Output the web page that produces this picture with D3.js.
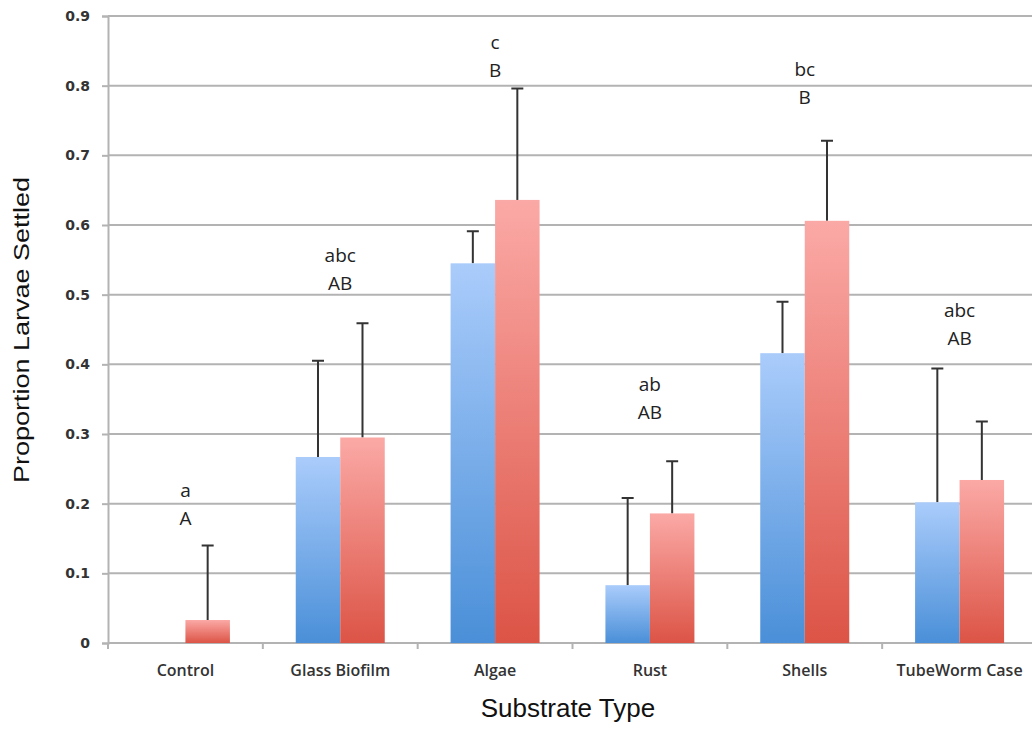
<!DOCTYPE html>
<html>
<head>
<meta charset="utf-8">
<script src="https://cdn.jsdelivr.net/npm/d3@7"></script>
<style>
  body { margin: 0; background: #fff; }
  svg { display: block; }
</style>
</head>
<body>
<div id="chart"></div>
<script>
// chart data
var categories = ["Control", "Glass Biofilm", "Algae", "Rust", "Shells", "TubeWorm Case"];
var series = ["blue", "red"];
var blueMeans = [0, 0.267, 0.545, 0.083, 0.416, 0.202];
var blueErrTop = [0, 0.405, 0.591, 0.208, 0.490, 0.394];
var redMeans = [0.033, 0.295, 0.636, 0.186, 0.606, 0.234];
var redErrTop = [0.140, 0.459, 0.796, 0.261, 0.721, 0.318];
var lowerLetters = ["a", "abc", "c", "ab", "bc", "abc"];
var upperLetters = ["A", "AB", "B", "AB", "B", "AB"];
// data value at which the upper letter sits
var letterLevel = [0.170, 0.506, 0.813, 0.322, 0.773, 0.428];
var yTicks = [0, 0.1, 0.2, 0.3, 0.4, 0.5, 0.6, 0.7, 0.8, 0.9];

var svgWidth = 1032;
var svgHeight = 729;
var margin = { top: 16, right: -5, bottom: 86, left: 108 };
var width = svgWidth - margin.left - margin.right;
var height = svgHeight - margin.top - margin.bottom;

var svg = d3.select("#chart")
  .append("svg")
  .attr("width", svgWidth)
  .attr("height", svgHeight);

var defs = svg.append("defs");
var blueGrad = defs.append("linearGradient").attr("id", "gradBlue")
  .attr("x1", 0).attr("y1", 0).attr("x2", 0).attr("y2", 1);
blueGrad.append("stop").attr("offset", "0%").attr("stop-color", "#aaccfb");
blueGrad.append("stop").attr("offset", "100%").attr("stop-color", "#4a8fd8");
var redGrad = defs.append("linearGradient").attr("id", "gradRed")
  .attr("x1", 0).attr("y1", 0).attr("x2", 0).attr("y2", 1);
redGrad.append("stop").attr("offset", "0%").attr("stop-color", "#fba9a6");
redGrad.append("stop").attr("offset", "100%").attr("stop-color", "#dc5446");

var chartGroup = svg.append("g")
  .attr("transform", `translate(${margin.left}, ${margin.top})`);

// scales
var x0 = d3.scaleBand()
  .domain(categories)
  .range([0, width])
  .paddingInner(0)
  .paddingOuter(0);

var groupWidth = 89;
var x1 = d3.scaleBand()
  .domain(series)
  .range([(x0.bandwidth() - groupWidth) / 2, (x0.bandwidth() + groupWidth) / 2]);

var yLinearScale = d3.scaleLinear()
  .domain([0, 0.9])
  .range([height, 0]);

// horizontal gridlines
chartGroup.append("g")
  .selectAll("line")
  .data(yTicks)
  .enter()
  .append("line")
  .attr("x1", 0)
  .attr("x2", width)
  .attr("y1", d => yLinearScale(d))
  .attr("y2", d => yLinearScale(d))
  .attr("stroke", "#b3b3b3")
  .attr("stroke-width", 2);

// y axis
var leftAxis = d3.axisLeft(yLinearScale)
  .tickValues(yTicks)
  .tickSize(6)
  .tickPadding(12)
  .tickFormat(d => d === 0 ? "0" : d3.format(".1f")(d));

var yAxis = chartGroup.append("g").call(leftAxis);
yAxis.select(".domain").attr("stroke", "#b3b3b3").attr("stroke-width", 2);
yAxis.selectAll(".tick line").attr("stroke", "#b3b3b3").attr("stroke-width", 2);
yAxis.selectAll("text")
  .attr("font-family", "DejaVu Sans, Verdana, sans-serif")
  .attr("font-weight", "bold")
  .attr("font-size", "14px")
  .attr("fill", "#333");

// x axis: ticks sit on category boundaries
var boundaries = categories.map(c => x0(c)).concat([width]);
var xAxis = chartGroup.append("g")
  .attr("transform", `translate(0, ${height})`);
xAxis.append("line")
  .attr("x1", 0).attr("x2", width)
  .attr("stroke", "#b3b3b3").attr("stroke-width", 2);
xAxis.selectAll(".xtick")
  .data(boundaries)
  .enter()
  .append("line")
  .attr("class", "xtick")
  .attr("x1", d => d).attr("x2", d => d)
  .attr("y1", 0).attr("y2", 6)
  .attr("stroke", "#b3b3b3").attr("stroke-width", 2);
xAxis.selectAll(".xlabel")
  .data(categories)
  .enter()
  .append("text")
  .attr("class", "xlabel")
  .attr("x", d => x0(d) + x0.bandwidth() / 2)
  .attr("y", 33)
  .attr("text-anchor", "middle")
  .attr("font-family", "Open Sans, Lato, sans-serif")
  .attr("font-size", "16px")
  .attr("font-weight", 600)
  .attr("fill", "#333")
  .text(d => d);

// build rows for bars
var rows = categories.map(function(c, i) {
  return {
    cat: c,
    vals: [
      { key: "blue", mean: blueMeans[i], top: blueErrTop[i] },
      { key: "red", mean: redMeans[i], top: redErrTop[i] }
    ]
  };
});

var groups = chartGroup.selectAll(".group")
  .data(rows)
  .enter()
  .append("g")
  .attr("class", "group")
  .attr("transform", d => `translate(${x0(d.cat)}, 0)`);

// error bars first, bars drawn over them
groups.selectAll(".err")
  .data(d => d.vals.filter(v => v.top > v.mean))
  .enter()
  .append("path")
  .attr("class", "err")
  .attr("d", function(v) {
    var cx = x1(v.key) + x1.bandwidth() / 2;
    var y0 = yLinearScale(v.mean);
    var y1 = yLinearScale(v.top);
    return `M${cx},${y0}V${y1}M${cx - 6},${y1}H${cx + 6}`;
  })
  .attr("stroke", "#333")
  .attr("stroke-width", 2)
  .attr("fill", "none");

groups.selectAll(".bar")
  .data(d => d.vals)
  .enter()
  .append("rect")
  .attr("class", "bar")
  .attr("x", v => x1(v.key))
  .attr("width", x1.bandwidth())
  .attr("y", v => yLinearScale(v.mean))
  .attr("height", v => height - yLinearScale(v.mean))
  .attr("fill", v => v.key === "blue" ? "url(#gradBlue)" : "url(#gradRed)");

// significance letters
var letters = chartGroup.selectAll(".letters")
  .data(categories)
  .enter()
  .append("g")
  .attr("class", "letters")
  .attr("font-family", "Open Sans, Lato, sans-serif")
  .attr("font-size", "19px")
  .attr("fill", "#222");

letters.append("text")
  .attr("x", (d, i) => x0(d) + x0.bandwidth() / 2)
  .attr("y", (d, i) => yLinearScale(letterLevel[i]) - 28)
  .attr("text-anchor", "middle")
  .text((d, i) => lowerLetters[i]);

letters.append("text")
  .attr("x", (d, i) => x0(d) + x0.bandwidth() / 2)
  .attr("y", (d, i) => yLinearScale(letterLevel[i]))
  .attr("text-anchor", "middle")
  .text((d, i) => upperLetters[i]);

// axis titles
svg.append("text")
  .attr("x", 568)
  .attr("y", 717)
  .attr("text-anchor", "middle")
  .attr("font-family", "Liberation Sans, Arial, sans-serif")
  .attr("font-size", "26px")
  .attr("fill", "#111")
  .text("Substrate Type");

svg.append("text")
  .attr("transform", "translate(29, 330) rotate(-90)")
  .attr("text-anchor", "middle")
  .attr("font-family", "Liberation Sans, Arial, sans-serif")
  .attr("font-size", "22px")
  .attr("textLength", 306)
  .attr("lengthAdjust", "spacingAndGlyphs")
  .attr("fill", "#111")
  .text("Proportion Larvae Settled");
</script>
</body>
</html>
